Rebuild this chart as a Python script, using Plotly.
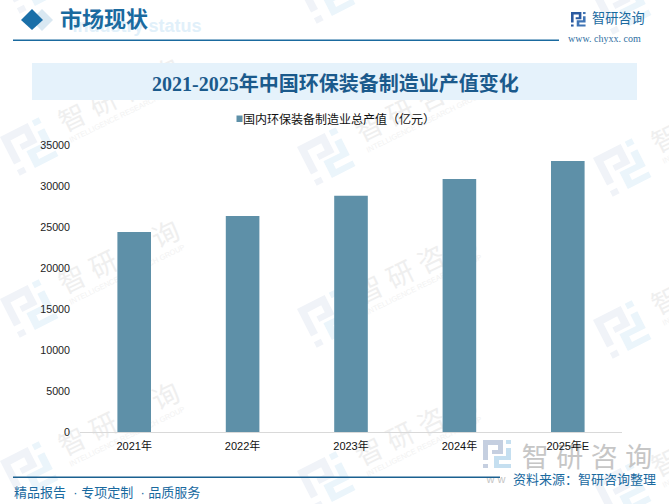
import math
import plotly.graph_objects as go

categories = ["2021年", "2022年", "2023年", "2024年", "2025年E"]
values = [24400, 26350, 28800, 30850, 33050]
series_name = "国内环保装备制造业总产值（亿元）"
y_ticks = [0, 5000, 10000, 15000, 20000, 25000, 30000, 35000]
title_text = "2021-2025年中国环保装备制造业产值变化"

W, H = 669, 504
SANS = "Liberation Sans, Noto Sans CJK SC"
SERIF = "Liberation Serif, Noto Sans CJK SC"
def px(x): return x / W
def py(y): return 1 - y / H

shapes, ann = [], []

def rect(x0, y0, x1, y1, color):
    shapes.append(dict(type="rect", xref="paper", yref="paper", x0=px(x0), x1=px(x1),
                       y0=py(y1), y1=py(y0), fillcolor=color, line=dict(width=0), layer="below"))

def poly(points, color):
    d = "M " + " L ".join(f"{px(a):.5f} {py(b):.5f}" for a, b in points) + " Z"
    shapes.append(dict(type="path", xref="paper", yref="paper", path=d,
                       fillcolor=color, line=dict(width=0), layer="below"))

def text(x, y, s, size, color, family=SANS, anchor="left"):
    ann.append(dict(xref="paper", yref="paper", x=px(x), y=py(y), text=s, showarrow=False,
                    font=dict(size=size, color=color, family=family),
                    xanchor=anchor, yanchor="middle", borderpad=0, borderwidth=0))

def under_text(cx, cy, s, size, color, angle=0):
    # text on the layer beneath the bars
    shapes.append(dict(type="rect", xref="paper", yref="paper", x0=px(cx - 5), x1=px(cx + 5),
                       y0=py(cy + 5), y1=py(cy - 5), fillcolor="rgba(0,0,0,0)", line=dict(width=0),
                       layer="below",
                       label=dict(text=s, textangle=angle, textposition="middle center",
                                  font=dict(size=size, color=color, family=SANS))))

LOGO_DARK = [
    [(0, 0), (20, 0), (20, 14), (9, 14), (9, 10), (15, 10), (15, 5), (5, 5), (5, 20), (0, 20)],
    [(0, 24), (5, 24), (5, 28), (0, 28)],
]
LOGO_LIGHT = [
    [(23, 0), (28, 0), (28, 4), (23, 4)],
    [(23, 8), (28, 8), (28, 20), (16, 20), (16, 24), (28, 24), (28, 28), (11, 28), (11, 16), (23, 16)],
]

def logo(x, y, scale, dark, light, angle=0):
    a = math.radians(angle)
    for parts, color in ((LOGO_DARK, dark), (LOGO_LIGHT, light)):
        for part in parts:
            pts = []
            for u, v in part:
                u, v = u * scale, v * scale
                pts.append((x + u * math.cos(a) - v * math.sin(a), y + u * math.sin(a) + v * math.cos(a)))
            poly(pts, color)

# repeating watermark
for col_x, base_y in [(0, 137), (297, 147), (593, 158)]:
    for k in range(-1, 3):
        oy = base_y + 162 * k
        logo(col_x, oy, 1.55, "#f0f3f8", "#ebf5fb", angle=-27)
        if k >= 0:
            cx, cy = col_x + 118, oy - 44
            under_text(cx, cy, "智 研 咨 询", 27, "#efefef", angle=-26)
            under_text(cx + 9, cy + 19, "INTELLIGENCE RESEARCH GROUP", 7.5, "#f2f2f2", angle=-26)

# header
under_text(137, 24, "<b>industry status</b>", 18, "#e1f0fa")
poly([(31, 20), (42, 9), (53, 20), (42, 31)], "#d9e8f2")
poly([(32, 9), (43, 20), (32, 30), (21, 20)], "#1a6fa8")
text(60, 20, "<b>市场现状</b>", 22, "#1a6a9f", family=SERIF)
rect(13, 39.6, 559, 41, "#1a6a9f")
logo(571, 12, 0.52, "#2a5aa0", "#3f74b5")
text(592, 19, "智研咨询", 13.2, "#1a6a9f")
text(568, 39, "www. chyxx. com", 10, "#2f6f9f", family="Liberation Serif")

# title band
rect(32, 63, 637, 100, "#e5f2fb")
text(335, 84, "<b>" + title_text + "</b>", 20, "#1b5a8c", family=SERIF, anchor="center")

# legend
rect(236.5, 115.5, 242.5, 122, "#5e90a8")
text(243, 119, series_name, 12, "#111111")

# footer
logo(483, 440, 1.0, "#c5cfe0", "#c5dff0")
under_text(587, 455, "智 研 咨 询", 27, "#c6c6c6")
under_text(496, 478, "w w", 11, "#c6c6c6")
rect(13, 476.5, 500, 478, "#1a6090")
text(14, 492, "精品报告  · 专项定制  · 品质服务", 13, "#1a6a9f")
text(513, 479, "资料来源：智研咨询整理", 13, "#1a6a9f")

fig = go.Figure(go.Bar(x=categories, y=values, name=series_name, marker_color="#5e90a8",
                       marker_line_width=0, showlegend=False))
fig.update_layout(
    width=W, height=H, margin=dict(l=0, r=0, t=0, b=0), autosize=False,
    paper_bgcolor="white", plot_bgcolor="rgba(0,0,0,0)", bargap=0.69,
    font=dict(family=SANS, size=11, color="#222222"),
    shapes=shapes, annotations=ann,
)
fig.update_xaxes(domain=[px(80), px(622)], showgrid=False, showline=True, linecolor="#d9d9d9",
                 linewidth=1, ticks="", tickfont=dict(size=11, color="#111111"), automargin=False,
                 ticklabelstandoff=4)
fig.update_yaxes(domain=[py(432), py(145)], range=[0, 35000], tickvals=y_ticks, showgrid=False,
                 zeroline=False, showline=False, ticks="", tickformat="d",
                 tickfont=dict(size=10.7, color="#222222"), automargin=False, ticklabelstandoff=9)
fig.write_html("out.html", post_script="document.body.style.margin='0';",
               config={"displayModeBar": False})
